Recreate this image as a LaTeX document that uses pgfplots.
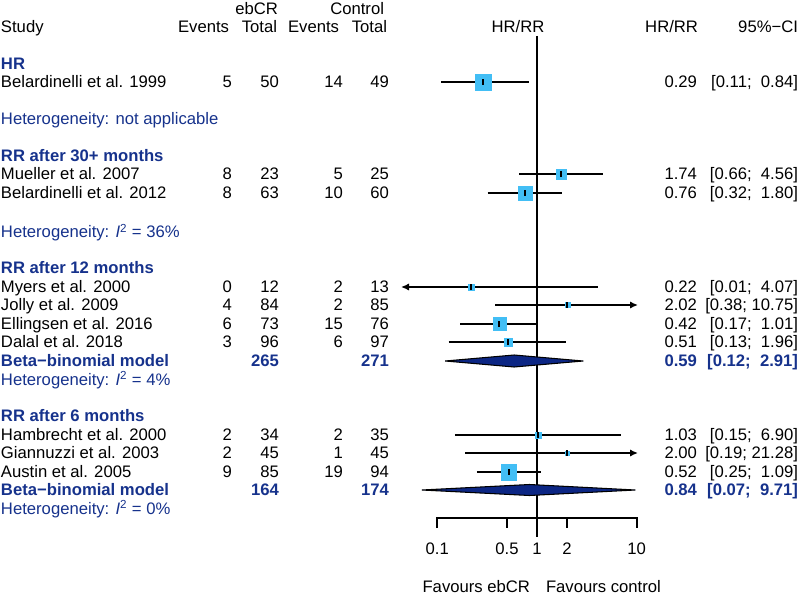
\documentclass[border=0pt]{standalone}
\usepackage{pgfplots}
\pgfplotsset{compat=1.18}
\usepackage{fontspec}
\setmainfont{Liberation Sans}
\usetikzlibrary{arrows.meta}
\definecolor{hblue}{RGB}{22,50,140}
\definecolor{dblue}{RGB}{12,38,132}
\definecolor{sqblue}{RGB}{66,190,245}
\tikzset{txt/.style={font=\fontsize{12.5}{15}\selectfont, inner sep=0pt, outer sep=0pt}}
\newcommand\tl[3]{\node[txt,anchor=base west] at (axis cs:#1,#2) {#3};}
\newcommand\tr[3]{\node[txt,anchor=base east] at (axis cs:#1,#2) {#3};}
\newcommand\tc[3]{\node[txt,anchor=base] at (axis cs:#1,#2) {#3};}
% study row: y, name, events1, total1, events2, total2, est, CI string
\newcommand\row[8]{%
  \tl{1}{#1}{#2}\tr{232}{#1}{#3}\tr{279}{#1}{#4}\tr{343}{#1}{#5}\tr{389}{#1}{#6}%
  \tr{697}{#1}{#7}\tr{798}{#1}{#8}}
\newcommand\het[2]{\tl{1}{#1}{\color{hblue}Heterogeneity: #2}}
\newcommand\Isq{\textit{I}\textsuperscript{2}}
\begin{document}
\begin{tikzpicture}
% ---------- text canvas (pixel coordinates) ----------
\begin{axis}[at={(0,0)}, anchor=south west, scale only axis,
  width=600pt, height=447.75pt, xmin=0, xmax=800, ymin=0, ymax=597,
  y dir=reverse, hide axis, clip=false]
\tr{278}{14.5}{ebCR}\tr{384}{14.5}{Control}
\tl{1}{33}{Study}\tr{229}{33}{Events}\tr{277}{33}{Total}\tr{339}{33}{Events}\tr{387}{33}{Total}
\tc{518}{33}{HR/RR}\tr{698}{33}{HR/RR}\tr{798}{33}{95\%−CI}
\tl{1}{69.5}{\color{hblue}\bfseries HR}
\row{87.5}{Belardinelli et al. 1999}{5}{50}{14}{49}{0.29}{[0.11;~~0.84]}
\het{124.5}{not applicable}
\tl{1}{161.5}{\color{hblue}\bfseries RR after 30+ months}
\row{179.5}{Mueller et al. 2007}{8}{23}{5}{25}{1.74}{[0.66;~~4.56]}
\row{198.5}{Belardinelli et al. 2012}{8}{63}{10}{60}{0.76}{[0.32;~~1.80]}
\het{238}{\Isq{} = 36\%}
\tl{1}{273.5}{\color{hblue}\bfseries RR after 12 months}
\row{292.5}{Myers et al. 2000}{0}{12}{2}{13}{0.22}{[0.01;~~4.07]}
\row{310.5}{Jolly et al. 2009}{4}{84}{2}{85}{2.02}{[0.38;~10.75]}
\row{329.5}{Ellingsen et al. 2016}{6}{73}{15}{76}{0.42}{[0.17;~~1.01]}
\row{347.5}{Dalal et al. 2018}{3}{96}{6}{97}{0.51}{[0.13;~~1.96]}
\tl{1}{366.5}{\color{hblue}\bfseries Beta−binomial model}
\tr{279}{366.5}{\color{hblue}\bfseries 265}\tr{389}{366.5}{\color{hblue}\bfseries 271}
\tr{697}{366.5}{\color{hblue}\bfseries 0.59}\tr{798}{366.5}{\color{hblue}\bfseries [0.12;~~2.91]}
\het{385.5}{\Isq{} = 4\%}
\tl{1}{421.5}{\color{hblue}\bfseries RR after 6 months}
\row{440.5}{Hambrecht et al. 2000}{2}{34}{2}{35}{1.03}{[0.15;~~6.90]}
\row{458.5}{Giannuzzi et al. 2003}{2}{45}{1}{45}{2.00}{[0.19;~21.28]}
\row{477.5}{Austin et al. 2005}{9}{85}{19}{94}{0.52}{[0.25;~~1.09]}
\tl{1}{495.5}{\color{hblue}\bfseries Beta−binomial model}
\tr{279}{495.5}{\color{hblue}\bfseries 164}\tr{389}{495.5}{\color{hblue}\bfseries 174}
\tr{697}{495.5}{\color{hblue}\bfseries 0.84}\tr{798}{495.5}{\color{hblue}\bfseries [0.07;~~9.71]}
\het{514.5}{\Isq{} = 0\%}
\tr{530}{592.5}{Favours ebCR}\tl{546}{592.5}{Favours control}
\end{axis}
% ---------- forest plot (log scale) ----------
\begin{axis}[at={(300.75pt,0)}, anchor=south west, scale only axis,
  width=177.75pt, height=447.75pt, xmode=log, xmin=0.04324, xmax=10.305,
  ymin=0, ymax=597, y dir=reverse, hide axis, clip=false]
% reference line and axis
\addplot[black, line width=1.4pt] coordinates {(1,36) (1,537)};
\addplot[black, line width=1.5pt] coordinates {(0.1,528) (0.1,518) (10,518) (10,528)};
\addplot[black, line width=1.5pt, forget plot] coordinates {(0.5,518) (0.5,528)};
\addplot[black, line width=1.5pt, forget plot] coordinates {(2,518) (2,528)};
\foreach \v/\l in {0.1/0.1, 0.5/0.5, 1/1, 2/2, 10/10}{
  \edef\tmp{\noexpand\node[txt,anchor=base] at (axis cs:\v,554) {\l};}\tmp}
% squares (size in px)
\addplot[only marks, mark=square*, color=sqblue, mark size=6.0pt] coordinates {(0.29,82)};
\addplot[only marks, mark=square*, color=sqblue, mark size=3.75pt] coordinates {(1.74,174)};
\addplot[only marks, mark=square*, color=sqblue, mark size=5.25pt] coordinates {(0.76,193)};
\addplot[only marks, mark=square*, color=sqblue, mark size=2.1pt] coordinates {(0.22,287)};
\addplot[only marks, mark=square*, color=sqblue, mark size=1.9pt] coordinates {(2.02,305)};
\addplot[only marks, mark=square*, color=sqblue, mark size=4.9pt] coordinates {(0.42,324)};
\addplot[only marks, mark=square*, color=sqblue, mark size=3.0pt] coordinates {(0.51,342)};
\addplot[only marks, mark=square*, color=sqblue, mark size=2.4pt] coordinates {(1.03,435)};
\addplot[only marks, mark=square*, color=sqblue, mark size=1.6pt] coordinates {(2.00,453)};
\addplot[only marks, mark=square*, color=sqblue, mark size=5.9pt] coordinates {(0.52,472)};
% confidence intervals
\addplot[black, line width=1.4pt] coordinates {(0.11,82) (0.84,82)};
\addplot[black, line width=1.4pt] coordinates {(0.66,174) (4.56,174)};
\addplot[black, line width=1.4pt] coordinates {(0.32,193) (1.80,193)};
\addplot[black, line width=1.4pt, -{Latex[length=6pt,width=5.5pt]}] coordinates {(4.07,287) (0.04324,287)};
\addplot[black, line width=1.4pt, -{Latex[length=6pt,width=5.5pt]}] coordinates {(0.38,305) (10.305,305)};
\addplot[black, line width=1.4pt] coordinates {(0.17,324) (1.01,324)};
\addplot[black, line width=1.4pt] coordinates {(0.13,342) (1.96,342)};
\addplot[black, line width=1.4pt] coordinates {(0.15,435) (6.90,435)};
\addplot[black, line width=1.4pt, -{Latex[length=6pt,width=5.5pt]}] coordinates {(0.19,453) (10.305,453)};
\addplot[black, line width=1.4pt] coordinates {(0.25,472) (1.09,472)};
% point estimate ticks
\addplot[only marks, mark=|, mark size=2.2pt, mark options={line width=1.5pt, black}] coordinates {
(0.29,82) (1.74,174) (0.76,193) (0.22,287) (2.02,305) (0.42,324) (0.51,342) (1.03,435) (2.00,453) (0.52,472)};
% pooled diamonds
\addplot[draw=black, fill=dblue, line width=0.8pt] coordinates {(0.12,361) (0.59,355) (2.91,361) (0.59,367)} -- cycle;
\addplot[draw=black, fill=dblue, line width=0.8pt] coordinates {(0.07,490) (0.84,484.5) (9.71,490) (0.84,495.5)} -- cycle;
\end{axis}
\pgfresetboundingbox
\useasboundingbox (0,0) rectangle (600pt,447.75pt);
\end{tikzpicture}
\end{document}
